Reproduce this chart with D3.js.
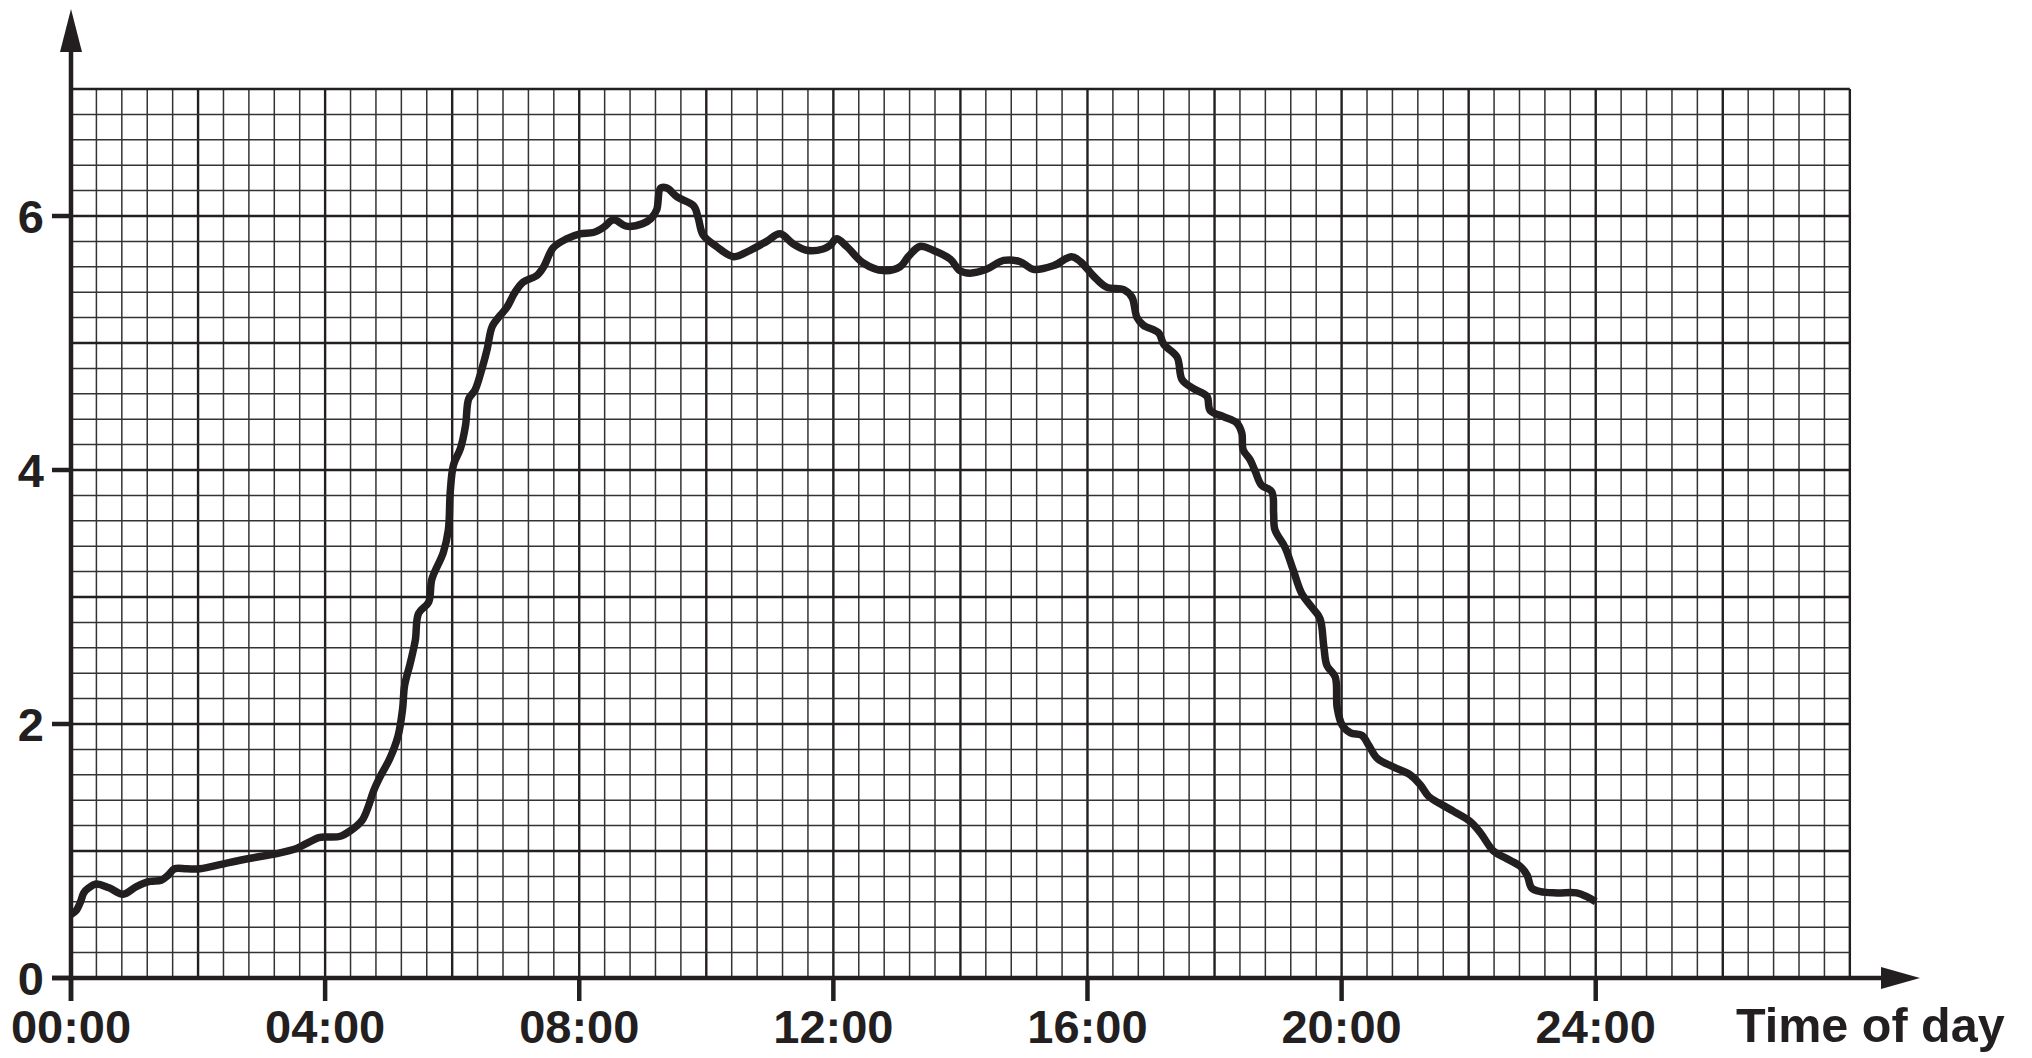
<!DOCTYPE html>
<html>
<head>
<meta charset="utf-8">
<script src="https://cdn.jsdelivr.net/npm/d3@7"></script>
<style>
  html, body { margin: 0; padding: 0; background: #ffffff; }
  svg { display: block; }
  text { font-family: "Liberation Sans", Arial, sans-serif; font-weight: bold; fill: #231f20; }
</style>
</head>
<body>
<svg id="chart" width="2032" height="1058"></svg>
<script>
// ---- data (time in hours since 00:00, value) ----
const hours = [0.00,0.08,0.15,0.20,0.28,0.39,0.60,0.82,1.03,1.24,1.42,1.53,1.63,1.82,2.03,2.45,2.87,3.24,3.55,3.71,3.90,4.03,4.24,4.40,4.58,4.68,4.76,4.86,5.02,5.15,5.22,5.25,5.34,5.42,5.47,5.63,5.68,5.86,5.94,5.97,6.02,6.13,6.21,6.26,6.36,6.47,6.55,6.63,6.76,6.86,6.99,7.12,7.33,7.44,7.59,7.80,8.01,8.22,8.38,8.54,8.74,9.00,9.13,9.22,9.28,9.38,9.54,9.80,9.87,9.95,10.16,10.43,10.69,10.95,11.16,11.37,11.58,11.84,11.95,12.05,12.21,12.47,12.79,13.05,13.18,13.36,13.57,13.84,13.99,14.15,14.41,14.68,14.94,15.15,15.47,15.75,15.89,16.09,16.30,16.57,16.70,16.78,16.88,17.12,17.20,17.41,17.49,17.67,17.88,17.93,18.14,18.35,18.43,18.45,18.56,18.64,18.74,18.90,18.93,18.95,19.11,19.24,19.37,19.53,19.66,19.72,19.77,19.90,19.93,20.01,20.14,20.32,20.43,20.56,20.82,21.08,21.24,21.37,21.56,21.77,22.03,22.19,22.39,22.60,22.81,22.92,22.99,23.13,23.39,23.70,23.86,24.00];
const values = [0.50,0.53,0.60,0.67,0.71,0.74,0.71,0.66,0.72,0.76,0.77,0.81,0.86,0.86,0.86,0.905,0.947,0.98,1.02,1.06,1.105,1.11,1.116,1.16,1.24,1.35,1.47,1.58,1.73,1.91,2.12,2.30,2.48,2.66,2.87,2.96,3.14,3.35,3.53,3.83,4.04,4.17,4.35,4.56,4.63,4.80,4.95,5.13,5.22,5.28,5.40,5.48,5.53,5.60,5.75,5.82,5.86,5.87,5.91,5.97,5.92,5.94,5.98,6.05,6.22,6.22,6.15,6.08,5.99,5.85,5.76,5.68,5.73,5.80,5.86,5.78,5.73,5.74,5.77,5.82,5.76,5.63,5.57,5.60,5.68,5.76,5.73,5.66,5.57,5.55,5.58,5.65,5.64,5.58,5.61,5.68,5.64,5.53,5.44,5.42,5.36,5.20,5.14,5.08,4.99,4.89,4.71,4.64,4.58,4.47,4.42,4.37,4.29,4.16,4.08,3.99,3.88,3.83,3.66,3.53,3.39,3.21,3.03,2.92,2.83,2.61,2.46,2.37,2.13,1.99,1.93,1.91,1.83,1.73,1.66,1.60,1.52,1.43,1.37,1.31,1.23,1.14,1.00,0.94,0.88,0.81,0.71,0.68,0.67,0.67,0.64,0.60];

const xTickHours = [0, 4, 8, 12, 16, 20, 24];
const xTickLabels = ["00:00", "04:00", "08:00", "12:00", "16:00", "20:00", "24:00"];
const yTickValues = [0, 2, 4, 6];
const yTickLabels = ["0", "2", "4", "6"];
const xAxisTitle = "Time of day";

// ---- layout ----
const ink = "#231f20";
const x0 = 71, y0 = 978;
const x = d3.scaleLinear().domain([0, 28]).range([x0, x0 + 28 * 63.53]);
const y = d3.scaleLinear().domain([0, 7]).range([y0, y0 - 7 * 127.0]);

const svg = d3.select("#chart");

// grid
const grid = svg.append("g");
const xMinor = d3.range(0, 71).map(i => i * 0.4);
const yMinor = d3.range(0, 36).map(i => i * 0.2);
grid.selectAll("line.vx").data(xMinor).enter().append("line")
  .attr("x1", d => x(d)).attr("x2", d => x(d))
  .attr("y1", y(0)).attr("y2", y(7))
  .attr("stroke", (d, i) => i % 5 === 0 ? ink : "#333333")
  .attr("stroke-width", (d, i) => i % 5 === 0 ? 2.4 : 1.5);
grid.selectAll("line.hy").data(yMinor).enter().append("line")
  .attr("x1", x(0)).attr("x2", x(28))
  .attr("y1", d => y(d)).attr("y2", d => y(d))
  .attr("stroke", (d, i) => i % 5 === 0 ? ink : "#333333")
  .attr("stroke-width", (d, i) => i % 5 === 0 ? 2.4 : 1.5);

// data curve
const pts = hours.map((h, i) => [h, values[i]]);
const line = d3.line().x(d => x(d[0])).y(d => y(d[1])).curve(d3.curveCatmullRom.alpha(0.5));
svg.append("path").datum(pts)
  .attr("d", line)
  .attr("fill", "none")
  .attr("stroke", ink)
  .attr("stroke-width", 7.5)
  .attr("stroke-linejoin", "round")
  .attr("stroke-linecap", "butt");

// axes
const axes = svg.append("g");
axes.append("line").attr("x1", x0).attr("x2", x0).attr("y1", y0 + 23).attr("y2", 40)
  .attr("stroke", ink).attr("stroke-width", 4.5);
axes.append("path").attr("d", `M${x0},9 L${x0 - 11},52 L${x0 + 11},52 Z`).attr("fill", ink);
axes.append("line").attr("x1", x0 - 19).attr("x2", 1890).attr("y1", y0).attr("y2", y0)
  .attr("stroke", ink).attr("stroke-width", 4.5);
axes.append("path").attr("d", `M1920,${y0} L1881,${y0 - 11} L1881,${y0 + 11} Z`).attr("fill", ink);

// x ticks & labels
const xt = axes.selectAll("g.xt").data(xTickHours).enter().append("g");
xt.append("line").attr("x1", d => x(d)).attr("x2", d => x(d))
  .attr("y1", y0).attr("y2", y0 + 23).attr("stroke", ink).attr("stroke-width", 4.5);
xt.append("text").attr("x", d => x(d)).attr("y", 1043)
  .attr("text-anchor", "middle").attr("font-size", 47)
  .text((d, i) => xTickLabels[i]);

// y ticks & labels
const yt = axes.selectAll("g.yt").data(yTickValues).enter().append("g");
yt.append("line").attr("x1", x0 - 19).attr("x2", x0)
  .attr("y1", d => y(d)).attr("y2", d => y(d)).attr("stroke", ink).attr("stroke-width", 4.5);
yt.append("text").attr("x", 44).attr("y", d => y(d) + 17)
  .attr("text-anchor", "end").attr("font-size", 47)
  .text((d, i) => yTickLabels[i]);

// axis title
axes.append("text").attr("x", 1736).attr("y", 1042)
  .attr("text-anchor", "start").attr("font-size", 48.5)
  .text(xAxisTitle);
</script>
</body>
</html>
